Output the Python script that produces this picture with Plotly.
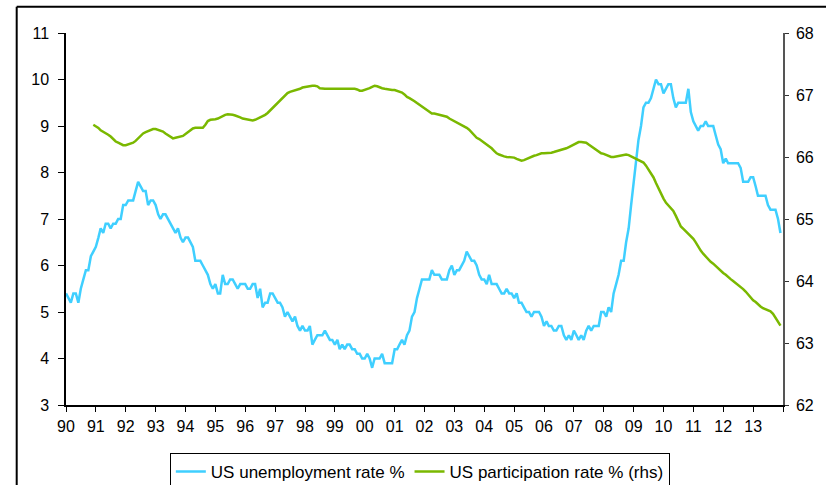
import pandas as pd
import plotly.graph_objects as go

# US unemployment rate %, monthly Jan 1990 - Dec 2013
u1990 = [5.4, 5.3, 5.2, 5.4, 5.4, 5.2, 5.5, 5.7, 5.9, 5.9, 6.2, 6.3]
u1991 = [6.4, 6.6, 6.8, 6.7, 6.9, 6.9, 6.8, 6.9, 6.9, 7.0, 7.0, 7.3]
u1992 = [7.3, 7.4, 7.4, 7.4, 7.6, 7.8, 7.7, 7.6, 7.6, 7.3, 7.4, 7.4]
u1993 = [7.3, 7.1, 7.0, 7.1, 7.1, 7.0, 6.9, 6.8, 6.7, 6.8, 6.6, 6.5]
u1994 = [6.6, 6.6, 6.5, 6.4, 6.1, 6.1, 6.1, 6.0, 5.9, 5.8, 5.6, 5.5]
u1995 = [5.6, 5.4, 5.4, 5.8, 5.6, 5.6, 5.7, 5.7, 5.6, 5.5, 5.6, 5.6]
u1996 = [5.6, 5.5, 5.5, 5.6, 5.6, 5.3, 5.5, 5.1, 5.2, 5.2, 5.4, 5.4]
u1997 = [5.3, 5.2, 5.2, 5.1, 4.9, 5.0, 4.9, 4.8, 4.9, 4.7, 4.6, 4.7]
u1998 = [4.6, 4.6, 4.7, 4.3, 4.4, 4.5, 4.5, 4.5, 4.6, 4.5, 4.4, 4.4]
u1999 = [4.3, 4.4, 4.2, 4.3, 4.2, 4.3, 4.3, 4.2, 4.2, 4.1, 4.1, 4.0]
u2000 = [4.0, 4.1, 4.0, 3.8, 4.0, 4.0, 4.0, 4.1, 3.9, 3.9, 3.9, 3.9]
u2001 = [4.2, 4.2, 4.3, 4.4, 4.3, 4.5, 4.6, 4.9, 5.0, 5.3, 5.5, 5.7]
u2002 = [5.7, 5.7, 5.7, 5.9, 5.8, 5.8, 5.8, 5.7, 5.7, 5.7, 5.9, 6.0]
u2003 = [5.8, 5.9, 5.9, 6.0, 6.1, 6.3, 6.2, 6.1, 6.1, 6.0, 5.8, 5.7]
u2004 = [5.7, 5.6, 5.8, 5.6, 5.6, 5.6, 5.5, 5.4, 5.4, 5.5, 5.4, 5.4]
u2005 = [5.3, 5.4, 5.2, 5.2, 5.1, 5.0, 5.0, 4.9, 5.0, 5.0, 5.0, 4.9]
u2006 = [4.7, 4.8, 4.7, 4.7, 4.6, 4.6, 4.7, 4.7, 4.5, 4.4, 4.5, 4.4]
u2007 = [4.6, 4.5, 4.4, 4.5, 4.4, 4.6, 4.7, 4.6, 4.7, 4.7, 4.7, 5.0]
u2008 = [5.0, 4.9, 5.1, 5.0, 5.4, 5.6, 5.8, 6.1, 6.1, 6.5, 6.8, 7.3]
u2009 = [7.8, 8.3, 8.7, 9.0, 9.4, 9.5, 9.5, 9.6, 9.8, 10.0, 9.9, 9.9]
u2010 = [9.7, 9.8, 9.9, 9.9, 9.6, 9.4, 9.5, 9.5, 9.5, 9.5, 9.8, 9.3]
u2011 = [9.1, 9.0, 8.9, 9.0, 9.0, 9.1, 9.0, 9.0, 9.0, 8.8, 8.6, 8.5]
u2012 = [8.2, 8.3, 8.2, 8.2, 8.2, 8.2, 8.2, 8.1, 7.8, 7.8, 7.8, 7.9]
u2013 = [7.9, 7.7, 7.5, 7.5, 7.5, 7.5, 7.3, 7.2, 7.2, 7.2, 7.0, 6.7]

# US participation rate % (rhs), monthly Dec 1990 - Dec 2013
p1990 = [66.52]
p1991 = [66.50, 66.47, 66.43, 66.41, 66.38, 66.36, 66.33, 66.29, 66.25, 66.23, 66.21, 66.19]
p1992 = [66.19, 66.20, 66.21, 66.23, 66.26, 66.30, 66.34, 66.38, 66.40, 66.42, 66.44, 66.45]
p1993 = [66.45, 66.44, 66.43, 66.41, 66.38, 66.35, 66.32, 66.30, 66.31, 66.32, 66.33, 66.34]
p1994 = [66.37, 66.40, 66.43, 66.46, 66.47, 66.47, 66.47, 66.47, 66.52, 66.58, 66.60, 66.60]
p1995 = [66.61, 66.62, 66.64, 66.67, 66.68, 66.69, 66.69, 66.68, 66.67, 66.66, 66.64, 66.62]
p1996 = [66.61, 66.60, 66.59, 66.59, 66.60, 66.62, 66.63, 66.65, 66.68, 66.71, 66.75, 66.80]
p1997 = [66.83, 66.87, 66.91, 66.95, 66.99, 67.03, 67.05, 67.06, 67.07, 67.08, 67.10, 67.12]
p1998 = [67.13, 67.14, 67.15, 67.15, 67.15, 67.14, 67.11, 67.10, 67.10, 67.10, 67.10, 67.10]
p1999 = [67.10, 67.10, 67.11, 67.11, 67.11, 67.11, 67.11, 67.11, 67.10, 67.09, 67.07, 67.07]
p2000 = [67.08, 67.09, 67.11, 67.13, 67.15, 67.14, 67.12, 67.11, 67.10, 67.09, 67.09, 67.08]
p2001 = [67.08, 67.07, 67.06, 67.04, 67.01, 66.97, 66.95, 66.93, 66.90, 66.87, 66.84, 66.81]
p2002 = [66.79, 66.76, 66.73, 66.70, 66.70, 66.69, 66.68, 66.68, 66.67, 66.65, 66.62, 66.60]
p2003 = [66.58, 66.55, 66.53, 66.51, 66.49, 66.47, 66.44, 66.40, 66.35, 66.31, 66.29, 66.26]
p2004 = [66.24, 66.21, 66.17, 66.14, 66.10, 66.06, 66.04, 66.02, 66.01, 66.00, 66.00, 65.99]
p2005 = [65.99, 65.97, 65.95, 65.94, 65.95, 65.97, 65.98, 66.00, 66.02, 66.03, 66.05, 66.06]
p2006 = [66.06, 66.06, 66.07, 66.07, 66.08, 66.09, 66.11, 66.12, 66.13, 66.14, 66.16, 66.18]
p2007 = [66.20, 66.22, 66.24, 66.24, 66.24, 66.23, 66.20, 66.17, 66.14, 66.12, 66.09, 66.06]
p2008 = [66.05, 66.03, 66.01, 66.00, 66.00, 66.01, 66.02, 66.03, 66.04, 66.04, 66.03, 66.01]
p2009 = [65.99, 65.98, 65.96, 65.94, 65.91, 65.86, 65.80, 65.73, 65.67, 65.58, 65.49, 65.41]
p2010 = [65.33, 65.26, 65.22, 65.18, 65.13, 65.05, 64.96, 64.88, 64.84, 64.80, 64.77, 64.72]
p2011 = [64.68, 64.62, 64.55, 64.49, 64.44, 64.39, 64.35, 64.31, 64.28, 64.24, 64.20, 64.17]
p2012 = [64.13, 64.10, 64.06, 64.03, 64.00, 63.97, 63.94, 63.91, 63.87, 63.83, 63.78, 63.74]
p2013 = [63.69, 63.66, 63.62, 63.59, 63.56, 63.54, 63.52, 63.51, 63.47, 63.41, 63.35, 63.28]

x_tick_labels = ["90", "91", "92", "93", "94", "95", "96", "97", "98", "99", "00", "01",
                 "02", "03", "04", "05", "06", "07", "08", "09", "10", "11", "12", "13", ""]

unemp = (u1990 + u1991 + u1992 + u1993 + u1994 + u1995 + u1996 + u1997 + u1998 + u1999 +
         u2000 + u2001 + u2002 + u2003 + u2004 + u2005 + u2006 + u2007 + u2008 + u2009 +
         u2010 + u2011 + u2012 + u2013)
partic = (p1990 + p1991 + p1992 + p1993 + p1994 + p1995 + p1996 + p1997 + p1998 + p1999 +
          p2000 + p2001 + p2002 + p2003 + p2004 + p2005 + p2006 + p2007 + p2008 + p2009 +
          p2010 + p2011 + p2012 + p2013)

dates_u = pd.date_range("1990-01-01", periods=len(unemp), freq="MS")
dates_p = pd.date_range("1990-12-01", periods=len(partic), freq="MS")
tick_dates = pd.date_range("1990-01-01", "2014-01-01", freq="YS")

FONT = "Liberation Sans, Arial, sans-serif"
BLUE = "#3FCFFF"
GREEN = "#7AB800"

fig = go.Figure()
fig.add_trace(go.Scatter(x=dates_u, y=unemp, mode="lines", name="US unemployment rate %",
                         line=dict(color=BLUE, width=2.5), yaxis="y"))
fig.add_trace(go.Scatter(x=dates_p, y=partic, mode="lines", name="US participation rate % (rhs)",
                         line=dict(color=GREEN, width=2.5), yaxis="y2"))

W, H = 826, 485
L, R, T, B = 66, 43, 33, 80
pw, ph = W - L - R, H - T - B


def px(xp):
    return (xp - L) / pw


def py(yp):
    return (H - B - yp) / ph


fig.update_layout(
    width=W, height=H,
    margin=dict(l=L, r=R, t=T, b=B, autoexpand=False),
    paper_bgcolor="white", plot_bgcolor="white",
    font=dict(family=FONT, size=16, color="black"),
    showlegend=True,
    legend=dict(orientation="h", x=0.4935, xanchor="center", y=py(453), yanchor="top",
                bordercolor="black", borderwidth=1, bgcolor="white",
                font=dict(family=FONT, size=17, color="black")),
    xaxis=dict(range=["1990-01-01", "2014-01-01"], tickvals=tick_dates, ticktext=x_tick_labels,
               showgrid=False, zeroline=False, showline=True, linecolor="black", linewidth=1.5,
               ticks="outside", ticklen=5, tickcolor="black", tickwidth=1,
               ticklabelstandoff=1, automargin=False),
    yaxis=dict(range=[3, 11], dtick=1, tick0=3, showgrid=False, zeroline=False,
               showline=True, linecolor="black", linewidth=1.5,
               ticks="outside", ticklen=6, tickcolor="black", tickwidth=1,
               ticklabelstandoff=6, automargin=False),
    yaxis2=dict(range=[62, 68], dtick=1, tick0=62, overlaying="y", side="right", anchor="x",
                showgrid=False, zeroline=False, showline=True, linecolor="#555555", linewidth=1.5,
                ticks="outside", ticklen=4, tickcolor="#333333", tickwidth=1,
                ticklabelstandoff=4, automargin=False),
    yaxis3=dict(range=[62, 68], dtick=1, tick0=62, overlaying="y", side="right", anchor="x",
                showgrid=False, zeroline=False, showline=False, showticklabels=False,
                ticks="inside", ticklen=4, tickcolor="#333333", tickwidth=1, automargin=False),
    shapes=[
        dict(type="line", xref="paper", yref="paper", x0=px(16.7), x1=px(16.7), y0=py(6.7), y1=py(495),
             line=dict(color="black", width=2)),
        dict(type="line", xref="paper", yref="paper", x0=px(16.7), x1=px(840), y0=py(6.7), y1=py(6.7),
             line=dict(color="black", width=2)),
    ],
)

fig.write_html("out.html", config={"displayModeBar": False},
               post_script="document.body.style.margin='0px';")
